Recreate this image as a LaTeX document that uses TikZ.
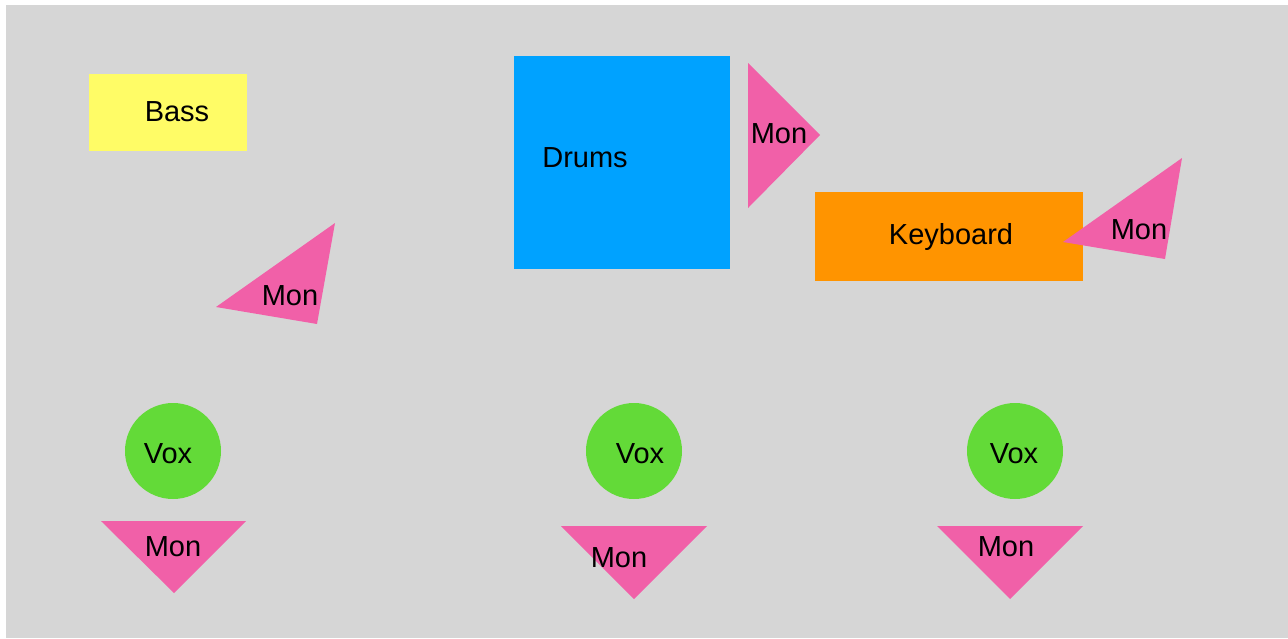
\documentclass[tikz,border=0pt]{standalone}
\usepackage{fontspec}
\setmainfont{Liberation Sans}
\definecolor{bg}{RGB}{214,214,214}
\definecolor{pinkmon}{RGB}{241,96,168}
\definecolor{bassy}{RGB}{255,252,102}
\definecolor{drumb}{RGB}{0,162,255}
\definecolor{keyo}{RGB}{255,148,0}
\definecolor{voxg}{RGB}{99,218,56}
\begin{document}
\begin{tikzpicture}[x=1pt,y=-1pt,
  lbl/.style={inner sep=0pt, text height=21pt, text depth=0pt, font=\fontsize{29}{34}\selectfont},
  mon/.style={fill=pinkmon},
  vox/.style={circle, fill=voxg, minimum size=96pt, inner sep=0pt}]
\useasboundingbox (0,0) rectangle (1288,638);
\fill[white] (0,0) rectangle (1288,638);
\fill[bg] (6,5) rectangle (1288,638);
% instruments
\fill[bassy] (89,74) rectangle (247,151);
\node[lbl] (bass) at (177,111) {Bass};
\fill[drumb] (514,56) rectangle (730,269);
\node[lbl] (drums) at (585,157) {Drums};
\fill[keyo] (815,192) rectangle (1083,281);
\node[lbl] (keys) at (951,234) {Keyboard};
% monitors
\fill[mon] (216,307) -- (335,223) -- (317,324) -- cycle;
\node[lbl] (mon1) at (290,295) {Mon};
\fill[mon] (748,63) -- (820,135) -- (748,208) -- cycle;
\node[lbl] (mon2) at (779,133) {Mon};
\fill[mon] (1063,242) -- (1182,158) -- (1165,259) -- cycle;
\node[lbl] (mon3) at (1139,229) {Mon};
% vox
\node[vox] (v1c) at (173,451) {};
\node[lbl] (v1) at (168,453) {Vox};
\node[vox] (v2c) at (634,451) {};
\node[lbl] (v2) at (640,453) {Vox};
\node[vox] (v3c) at (1015,451) {};
\node[lbl] (v3) at (1014,453) {Vox};
% floor monitors
\fill[mon] (101,521) -- (246,521) -- (174,593) -- cycle;
\node[lbl] (mon4) at (173,546) {Mon};
\fill[mon] (561,526) -- (707,526) -- (634,599) -- cycle;
\node[lbl] (mon5) at (619,557) {Mon};
\fill[mon] (937,526) -- (1083,526) -- (1010,599) -- cycle;
\node[lbl] (mon6) at (1006,546) {Mon};
\end{tikzpicture}
\end{document}
